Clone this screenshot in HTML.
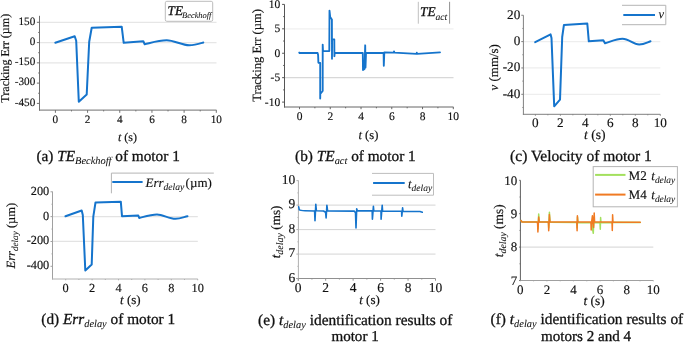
<!DOCTYPE html>
<html><head><meta charset="utf-8"><style>
html,body{margin:0;padding:0;background:#fff;width:685px;height:342px;overflow:hidden}
svg{display:block;will-change:transform}
text{text-rendering:geometricPrecision;font-family:"Liberation Serif",serif;fill:#111;stroke:#111;stroke-width:0.3px}
text.ty,text.tx{stroke-width:0.15px}
text.yl,text.xl{stroke-width:0.18px}
text.lg{stroke-width:0.14px}
tspan.s{stroke-width:0.05px}
</style></head><body>
<svg width="685" height="342" viewBox="0 0 685 342">
<line x1="40" y1="22.3" x2="216.5" y2="22.3" stroke="#e6e6e6" stroke-width="1.2"/>
<line x1="40" y1="42.58" x2="216.5" y2="42.58" stroke="#e6e6e6" stroke-width="1.2"/>
<line x1="40" y1="62.85" x2="216.5" y2="62.85" stroke="#e6e6e6" stroke-width="1.2"/>
<line x1="39.5" y1="15.8" x2="39.5" y2="110.6" stroke="#707070" stroke-width="1"/>
<line x1="39" y1="110.1" x2="216.5" y2="110.1" stroke="#707070" stroke-width="1"/>
<line x1="36.9" y1="22.3" x2="39.5" y2="22.3" stroke="#707070" stroke-width="1"/>
<text class="ty" x="35.3" y="24.5" font-size="11.2" text-anchor="end" >150</text>
<line x1="36.9" y1="42.58" x2="39.5" y2="42.58" stroke="#707070" stroke-width="1"/>
<text class="ty" x="35.3" y="44.78" font-size="11.2" text-anchor="end" >0</text>
<line x1="36.9" y1="62.85" x2="39.5" y2="62.85" stroke="#707070" stroke-width="1"/>
<text class="ty" x="35.3" y="65.05" font-size="11.2" text-anchor="end" >-150</text>
<line x1="36.9" y1="83.12" x2="39.5" y2="83.12" stroke="#707070" stroke-width="1"/>
<text class="ty" x="35.3" y="85.33" font-size="11.2" text-anchor="end" >-300</text>
<line x1="36.9" y1="103.4" x2="39.5" y2="103.4" stroke="#707070" stroke-width="1"/>
<text class="ty" x="35.3" y="105.6" font-size="11.2" text-anchor="end" >-450</text>
<line x1="38.2" y1="32.44" x2="39.5" y2="32.44" stroke="#707070" stroke-width="1"/>
<line x1="38.2" y1="52.71" x2="39.5" y2="52.71" stroke="#707070" stroke-width="1"/>
<line x1="38.2" y1="72.99" x2="39.5" y2="72.99" stroke="#707070" stroke-width="1"/>
<line x1="38.2" y1="93.26" x2="39.5" y2="93.26" stroke="#707070" stroke-width="1"/>
<line x1="55.4" y1="110.1" x2="55.4" y2="112.8" stroke="#707070" stroke-width="1"/>
<text class="tx" x="55.4" y="122.8" font-size="11.2" text-anchor="middle" >0</text>
<line x1="87.58" y1="110.1" x2="87.58" y2="112.8" stroke="#707070" stroke-width="1"/>
<text class="tx" x="87.58" y="122.8" font-size="11.2" text-anchor="middle" >2</text>
<line x1="119.76" y1="110.1" x2="119.76" y2="112.8" stroke="#707070" stroke-width="1"/>
<text class="tx" x="119.76" y="122.8" font-size="11.2" text-anchor="middle" >4</text>
<line x1="151.94" y1="110.1" x2="151.94" y2="112.8" stroke="#707070" stroke-width="1"/>
<text class="tx" x="151.94" y="122.8" font-size="11.2" text-anchor="middle" >6</text>
<line x1="184.12" y1="110.1" x2="184.12" y2="112.8" stroke="#707070" stroke-width="1"/>
<text class="tx" x="184.12" y="122.8" font-size="11.2" text-anchor="middle" >8</text>
<line x1="216.3" y1="110.1" x2="216.3" y2="112.8" stroke="#707070" stroke-width="1"/>
<text class="tx" x="216.3" y="122.8" font-size="11.2" text-anchor="middle" >10</text>
<line x1="71.49" y1="110.1" x2="71.49" y2="111.4" stroke="#707070" stroke-width="1"/>
<line x1="103.67" y1="110.1" x2="103.67" y2="111.4" stroke="#707070" stroke-width="1"/>
<line x1="135.85" y1="110.1" x2="135.85" y2="111.4" stroke="#707070" stroke-width="1"/>
<line x1="168.03" y1="110.1" x2="168.03" y2="111.4" stroke="#707070" stroke-width="1"/>
<line x1="200.21" y1="110.1" x2="200.21" y2="111.4" stroke="#707070" stroke-width="1"/>
<path d="M55.3 42.8 L74.7 36.2 L76.2 40.8 L78.8 101.7 L86.7 94.5 L89.2 41.7 L91.7 27.8 L121.7 26.7 L123.7 42.8 L143.3 41.3 L144.7 44.2 C152 42.5 159 40.3 166.7 40.3 C174 40.3 182 45.3 189.2 45.3 C195 45.3 200 43.5 203.3 42.5" fill="none" stroke="#1574cc" stroke-width="2" stroke-linejoin="round" stroke-linecap="round"/>
<rect x="165.3" y="1.3" width="47.4" height="20" rx="1.5" fill="#fff" stroke="#bcbcbc" stroke-width="1"/>
<text x="167.6" y="15" font-size="13.2" text-anchor="start" font-style="italic">TE<tspan class="s" font-size="8.4" dx="-0.9" dy="3.4">Beckhoff</tspan></text>
<text class="xl" x="118" y="141.2" font-size="12" text-anchor="start" ><tspan font-style="italic">t</tspan> (s)</text>
<text class="yl" transform="translate(8.7,58.25) rotate(-90)" font-size="12.05" text-anchor="middle">Tracking Err (µm)</text>
<text class="cap" x="36.4" y="160.9" font-size="15.3" text-anchor="start" >(a) <tspan font-style="italic">TE</tspan><tspan class="s" font-style="italic" font-size="10.4" dy="3.2">Beckhoff</tspan><tspan dy="-3.2">​</tspan> of motor 1</text>
<line x1="285" y1="28.82" x2="453.5" y2="28.82" stroke="#f0f0f0" stroke-width="1.2"/>
<line x1="285" y1="77.67" x2="453.5" y2="77.67" stroke="#d8d8d8" stroke-width="1.2"/>
<line x1="284.5" y1="4.4" x2="284.5" y2="107.5" stroke="#555" stroke-width="1"/>
<line x1="284" y1="107" x2="453.5" y2="107" stroke="#666" stroke-width="1"/>
<line x1="282.1" y1="4.4" x2="284.5" y2="4.4" stroke="#555" stroke-width="1"/>
<text class="ty" x="280.2" y="7.9" font-size="11.5" text-anchor="end" >10</text>
<line x1="282.1" y1="28.82" x2="284.5" y2="28.82" stroke="#555" stroke-width="1"/>
<text class="ty" x="280.2" y="32.32" font-size="11.5" text-anchor="end" >5</text>
<line x1="282.1" y1="53.25" x2="284.5" y2="53.25" stroke="#555" stroke-width="1"/>
<text class="ty" x="280.2" y="56.75" font-size="11.5" text-anchor="end" >0</text>
<line x1="282.1" y1="77.67" x2="284.5" y2="77.67" stroke="#555" stroke-width="1"/>
<text class="ty" x="280.2" y="81.17" font-size="11.5" text-anchor="end" >-5</text>
<line x1="282.1" y1="102.1" x2="284.5" y2="102.1" stroke="#555" stroke-width="1"/>
<text class="ty" x="280.2" y="105.6" font-size="11.5" text-anchor="end" >-10</text>
<line x1="283.2" y1="16.61" x2="284.5" y2="16.61" stroke="#555" stroke-width="1"/>
<line x1="283.2" y1="41.04" x2="284.5" y2="41.04" stroke="#555" stroke-width="1"/>
<line x1="283.2" y1="65.46" x2="284.5" y2="65.46" stroke="#555" stroke-width="1"/>
<line x1="283.2" y1="89.89" x2="284.5" y2="89.89" stroke="#555" stroke-width="1"/>
<line x1="299.5" y1="107" x2="299.5" y2="109.2" stroke="#666" stroke-width="1"/>
<text class="tx" x="299.5" y="119.8" font-size="11.5" text-anchor="middle" >0</text>
<line x1="330.26" y1="107" x2="330.26" y2="109.2" stroke="#666" stroke-width="1"/>
<text class="tx" x="330.26" y="119.8" font-size="11.5" text-anchor="middle" >2</text>
<line x1="361.02" y1="107" x2="361.02" y2="109.2" stroke="#666" stroke-width="1"/>
<text class="tx" x="361.02" y="119.8" font-size="11.5" text-anchor="middle" >4</text>
<line x1="391.78" y1="107" x2="391.78" y2="109.2" stroke="#666" stroke-width="1"/>
<text class="tx" x="391.78" y="119.8" font-size="11.5" text-anchor="middle" >6</text>
<line x1="422.54" y1="107" x2="422.54" y2="109.2" stroke="#666" stroke-width="1"/>
<text class="tx" x="422.54" y="119.8" font-size="11.5" text-anchor="middle" >8</text>
<line x1="453.3" y1="107" x2="453.3" y2="109.2" stroke="#666" stroke-width="1"/>
<text class="tx" x="453.3" y="119.8" font-size="11.5" text-anchor="middle" >10</text>
<line x1="314.88" y1="107" x2="314.88" y2="108.3" stroke="#666" stroke-width="1"/>
<line x1="345.64" y1="107" x2="345.64" y2="108.3" stroke="#666" stroke-width="1"/>
<line x1="376.4" y1="107" x2="376.4" y2="108.3" stroke="#666" stroke-width="1"/>
<line x1="407.16" y1="107" x2="407.16" y2="108.3" stroke="#666" stroke-width="1"/>
<line x1="437.92" y1="107" x2="437.92" y2="108.3" stroke="#666" stroke-width="1"/>
<path d="M299.2 52.6 L299.6 53 L317.6 53 L318.1 55 L318.4 62.8 L320.2 63 L320.2 98.6 L320.3 93.8 L322.7 91 L322.7 44.6 L323 51.1 L329.3 51.1 L329.5 10.6 L330.2 17 L331.9 19.5 L332 58.8 L332.1 39.2 L334.3 39.4 L334.4 56.2 L334.7 53 L362.8 53 L363 70 L364.5 69 L365.2 45.3 L365.5 67.5 L366 53 L383.6 52.8 L383.8 65.8 L384.3 52.4 L393.8 52.6 L394 51.4 L394.4 52.6 L416.5 53.9 L416.8 52.7 L417.2 53.9 L440 52.4" fill="none" stroke="#1574cc" stroke-width="1.85" stroke-linejoin="round" stroke-linecap="round"/>
<line x1="418.3" y1="1.8" x2="418.3" y2="23.7" stroke="#c0c0c0" stroke-width="1"/>
<line x1="449.6" y1="1.8" x2="449.6" y2="23.7" stroke="#909090" stroke-width="1"/>
<text x="420" y="15.5" font-size="13.3" text-anchor="start" font-style="italic">TE<tspan class="s" font-style="italic" font-size="9.6" dy="4.3">act</tspan><tspan dy="-4.3">​</tspan></text>
<text class="xl" x="358.4" y="138.5" font-size="12.6" text-anchor="start" ><tspan font-style="italic">t</tspan> (s)</text>
<text class="yl" transform="translate(260.8,55.35) rotate(-90)" font-size="12.6" text-anchor="middle">Tracking Err (µm)</text>
<text class="cap" x="295.1" y="160.9" font-size="15.3" text-anchor="start" >(b) <tspan font-style="italic">TE</tspan><tspan class="s" font-style="italic" font-size="10.4" dy="3.2">act</tspan><tspan dy="-3.2">​</tspan> of motor 1</text>
<line x1="523.9" y1="41.6" x2="660.3" y2="41.6" stroke="#eeeeee" stroke-width="1.2"/>
<line x1="523.9" y1="67.95" x2="660.3" y2="67.95" stroke="#eeeeee" stroke-width="1.2"/>
<line x1="523.9" y1="94.3" x2="660.3" y2="94.3" stroke="#eeeeee" stroke-width="1.2"/>
<line x1="523.4" y1="15.25" x2="523.4" y2="114.8" stroke="#808080" stroke-width="1"/>
<line x1="522.9" y1="114.3" x2="660.3" y2="114.3" stroke="#808080" stroke-width="1"/>
<line x1="521.3" y1="15.25" x2="523.4" y2="15.25" stroke="#808080" stroke-width="1"/>
<text class="ty" x="520.3" y="18.75" font-size="13.2" text-anchor="end" >20</text>
<line x1="521.3" y1="41.6" x2="523.4" y2="41.6" stroke="#808080" stroke-width="1"/>
<text class="ty" x="520.3" y="45.1" font-size="13.2" text-anchor="end" >0</text>
<line x1="521.3" y1="67.95" x2="523.4" y2="67.95" stroke="#808080" stroke-width="1"/>
<text class="ty" x="520.3" y="71.45" font-size="13.2" text-anchor="end" >-20</text>
<line x1="521.3" y1="94.3" x2="523.4" y2="94.3" stroke="#808080" stroke-width="1"/>
<text class="ty" x="520.3" y="97.8" font-size="13.2" text-anchor="end" >-40</text>
<line x1="522.4" y1="28.42" x2="523.4" y2="28.42" stroke="#808080" stroke-width="1"/>
<line x1="522.4" y1="54.77" x2="523.4" y2="54.77" stroke="#808080" stroke-width="1"/>
<line x1="522.4" y1="81.12" x2="523.4" y2="81.12" stroke="#808080" stroke-width="1"/>
<line x1="522.4" y1="107.47" x2="523.4" y2="107.47" stroke="#808080" stroke-width="1"/>
<line x1="535.4" y1="114.3" x2="535.4" y2="115.7" stroke="#808080" stroke-width="1"/>
<text class="tx" x="535.4" y="127.2" font-size="13.2" text-anchor="middle" >0</text>
<line x1="560.38" y1="114.3" x2="560.38" y2="115.7" stroke="#808080" stroke-width="1"/>
<text class="tx" x="560.38" y="127.2" font-size="13.2" text-anchor="middle" >2</text>
<line x1="585.36" y1="114.3" x2="585.36" y2="115.7" stroke="#808080" stroke-width="1"/>
<text class="tx" x="585.36" y="127.2" font-size="13.2" text-anchor="middle" >4</text>
<line x1="610.34" y1="114.3" x2="610.34" y2="115.7" stroke="#808080" stroke-width="1"/>
<text class="tx" x="610.34" y="127.2" font-size="13.2" text-anchor="middle" >6</text>
<line x1="635.32" y1="114.3" x2="635.32" y2="115.7" stroke="#808080" stroke-width="1"/>
<text class="tx" x="635.32" y="127.2" font-size="13.2" text-anchor="middle" >8</text>
<line x1="660.3" y1="114.3" x2="660.3" y2="115.7" stroke="#808080" stroke-width="1"/>
<text class="tx" x="660.3" y="127.2" font-size="13.2" text-anchor="middle" >10</text>
<line x1="547.89" y1="114.3" x2="547.89" y2="115.3" stroke="#808080" stroke-width="1"/>
<line x1="572.87" y1="114.3" x2="572.87" y2="115.3" stroke="#808080" stroke-width="1"/>
<line x1="597.85" y1="114.3" x2="597.85" y2="115.3" stroke="#808080" stroke-width="1"/>
<line x1="622.83" y1="114.3" x2="622.83" y2="115.3" stroke="#808080" stroke-width="1"/>
<line x1="647.81" y1="114.3" x2="647.81" y2="115.3" stroke="#808080" stroke-width="1"/>
<path d="M535.2 42.2 L550.6 34.4 L551.5 38 L554.2 106.3 L560 99.7 L562.2 37 L563.9 25.1 L587.3 23.5 L588.8 41.3 L603.3 40.3 L605 43.3 C611 41.5 616 38.7 622.5 38.7 C629 38.7 633 44.5 639.2 44.5 C644 44.5 647 42.5 650.5 41.3" fill="none" stroke="#1574cc" stroke-width="2" stroke-linejoin="round" stroke-linecap="round"/>
<line x1="622" y1="5.3" x2="665.8" y2="5.3" stroke="#b4b4b4" stroke-width="1"/>
<line x1="622" y1="24.7" x2="665.8" y2="24.7" stroke="#b4b4b4" stroke-width="1"/>
<line x1="665.8" y1="5.3" x2="665.8" y2="24.7" stroke="#b4b4b4" stroke-width="1"/>
<line x1="623.3" y1="15" x2="655" y2="15" stroke="#1574cc" stroke-width="2"/>
<text x="658.4" y="18.4" font-size="12.6" text-anchor="start" font-style="italic" style="stroke-width:0.05px">v</text>
<text class="xl" x="583.9" y="138.9" font-size="13.7" text-anchor="start" ><tspan font-style="italic">t</tspan> (s)</text>
<text class="yl" transform="translate(497.6,67.3) rotate(-90)" font-size="12.9" text-anchor="middle"><tspan font-style="italic">v</tspan> (mm/s)</text>
<text class="cap" x="510.1" y="160.9" font-size="15.5" text-anchor="start" >(c) Velocity of motor 1</text>
<line x1="53" y1="216.63" x2="197.8" y2="216.63" stroke="#e3e3e3" stroke-width="1.2"/>
<line x1="53" y1="241.47" x2="197.8" y2="241.47" stroke="#e3e3e3" stroke-width="1.2"/>
<line x1="52.5" y1="191.5" x2="52.5" y2="279.5" stroke="#a0a0a0" stroke-width="1"/>
<line x1="52" y1="279" x2="197.8" y2="279" stroke="#b0b0b0" stroke-width="1"/>
<line x1="50.5" y1="191.8" x2="52.5" y2="191.8" stroke="#a0a0a0" stroke-width="1"/>
<text class="ty" x="49.2" y="194.7" font-size="12.3" text-anchor="end" >200</text>
<line x1="50.5" y1="216.63" x2="52.5" y2="216.63" stroke="#a0a0a0" stroke-width="1"/>
<text class="ty" x="49.2" y="219.53" font-size="12.3" text-anchor="end" >0</text>
<line x1="50.5" y1="241.47" x2="52.5" y2="241.47" stroke="#a0a0a0" stroke-width="1"/>
<text class="ty" x="49.2" y="244.37" font-size="12.3" text-anchor="end" >-200</text>
<line x1="50.5" y1="266.3" x2="52.5" y2="266.3" stroke="#a0a0a0" stroke-width="1"/>
<text class="ty" x="49.2" y="269.2" font-size="12.3" text-anchor="end" >-400</text>
<line x1="51.5" y1="204.22" x2="52.5" y2="204.22" stroke="#a0a0a0" stroke-width="1"/>
<line x1="51.5" y1="229.05" x2="52.5" y2="229.05" stroke="#a0a0a0" stroke-width="1"/>
<line x1="51.5" y1="253.88" x2="52.5" y2="253.88" stroke="#a0a0a0" stroke-width="1"/>
<line x1="65.7" y1="279" x2="65.7" y2="280.3" stroke="#b0b0b0" stroke-width="1"/>
<text class="tx" x="65.7" y="291.5" font-size="12.3" text-anchor="middle" >0</text>
<line x1="92.1" y1="279" x2="92.1" y2="280.3" stroke="#b0b0b0" stroke-width="1"/>
<text class="tx" x="92.1" y="291.5" font-size="12.3" text-anchor="middle" >2</text>
<line x1="118.5" y1="279" x2="118.5" y2="280.3" stroke="#b0b0b0" stroke-width="1"/>
<text class="tx" x="118.5" y="291.5" font-size="12.3" text-anchor="middle" >4</text>
<line x1="144.9" y1="279" x2="144.9" y2="280.3" stroke="#b0b0b0" stroke-width="1"/>
<text class="tx" x="144.9" y="291.5" font-size="12.3" text-anchor="middle" >6</text>
<line x1="171.3" y1="279" x2="171.3" y2="280.3" stroke="#b0b0b0" stroke-width="1"/>
<text class="tx" x="171.3" y="291.5" font-size="12.3" text-anchor="middle" >8</text>
<line x1="197.7" y1="279" x2="197.7" y2="280.3" stroke="#b0b0b0" stroke-width="1"/>
<text class="tx" x="197.7" y="291.5" font-size="12.3" text-anchor="middle" >10</text>
<line x1="78.9" y1="279" x2="78.9" y2="280" stroke="#b0b0b0" stroke-width="1"/>
<line x1="105.3" y1="279" x2="105.3" y2="280" stroke="#b0b0b0" stroke-width="1"/>
<line x1="131.7" y1="279" x2="131.7" y2="280" stroke="#b0b0b0" stroke-width="1"/>
<line x1="158.1" y1="279" x2="158.1" y2="280" stroke="#b0b0b0" stroke-width="1"/>
<line x1="184.5" y1="279" x2="184.5" y2="280" stroke="#b0b0b0" stroke-width="1"/>
<path d="M65.5 216.3 L81.7 210.5 L82.8 215 L85.3 270.5 L91.7 264.5 L93.3 216.7 L95.5 202.5 L120.8 201.7 L122 216.2 L138.3 215.5 L139.2 218 C145 216.5 151 214.5 157 214.5 C163 214.5 169 218.8 175.5 218.8 C180 218.8 184 217 187.5 216.2" fill="none" stroke="#1574cc" stroke-width="2" stroke-linejoin="round" stroke-linecap="round"/>
<line x1="111.4" y1="173.1" x2="213.8" y2="173.1" stroke="#b4b4b4" stroke-width="1"/>
<line x1="111.4" y1="173.1" x2="111.4" y2="193.3" stroke="#b4b4b4" stroke-width="1"/>
<line x1="112.3" y1="182" x2="142.6" y2="182" stroke="#1574cc" stroke-width="2"/>
<text class="lg" x="145.5" y="186.9" font-size="13" text-anchor="start" ><tspan font-style="italic">Err</tspan><tspan class="s" font-style="italic" font-size="9.6" dy="3">delay</tspan><tspan dy="-3">​</tspan><tspan dx="-2"> (µm)</tspan></text>
<text class="xl" x="120" y="303.6" font-size="13" text-anchor="start" ><tspan font-style="italic">t</tspan> (s)</text>
<text class="yl" transform="translate(15.1,235.65) rotate(-90)" font-size="12.5" text-anchor="middle"><tspan font-style="italic">Err</tspan><tspan class="s" font-style="italic" font-size="9.2" dy="2.8">delay</tspan><tspan dy="-2.8">​</tspan> (µm)</text>
<text class="cap" x="41.3" y="324" font-size="15.3" text-anchor="start" >(d) <tspan font-style="italic">Err</tspan><tspan class="s" font-style="italic" font-size="10.4" dy="3.2">delay</tspan><tspan dy="-3.2">​</tspan> of motor 1</text>
<line x1="298.9" y1="205.12" x2="435.5" y2="205.12" stroke="#d4d4d4" stroke-width="1"/>
<line x1="298.9" y1="229.6" x2="435.5" y2="229.6" stroke="#d4d4d4" stroke-width="1"/>
<line x1="298.9" y1="254.08" x2="435.5" y2="254.08" stroke="#d4d4d4" stroke-width="1"/>
<line x1="298.4" y1="180.4" x2="298.4" y2="280.8" stroke="#b0b0b0" stroke-width="1"/>
<line x1="296.1" y1="278.5" x2="435.5" y2="278.5" stroke="#909090" stroke-width="1"/>
<line x1="296.4" y1="180.65" x2="298.4" y2="180.65" stroke="#b0b0b0" stroke-width="1"/>
<text class="ty" x="295.3" y="183.85" font-size="13.5" text-anchor="end" >10</text>
<line x1="296.4" y1="205.12" x2="298.4" y2="205.12" stroke="#b0b0b0" stroke-width="1"/>
<text class="ty" x="295.3" y="208.32" font-size="13.5" text-anchor="end" >9</text>
<line x1="296.4" y1="229.6" x2="298.4" y2="229.6" stroke="#b0b0b0" stroke-width="1"/>
<text class="ty" x="295.3" y="232.8" font-size="13.5" text-anchor="end" >8</text>
<line x1="296.4" y1="254.08" x2="298.4" y2="254.08" stroke="#b0b0b0" stroke-width="1"/>
<text class="ty" x="295.3" y="257.28" font-size="13.5" text-anchor="end" >7</text>
<line x1="296.4" y1="278.55" x2="298.4" y2="278.55" stroke="#b0b0b0" stroke-width="1"/>
<text class="ty" x="295.3" y="281.75" font-size="13.5" text-anchor="end" >6</text>
<line x1="297.4" y1="192.89" x2="298.4" y2="192.89" stroke="#b0b0b0" stroke-width="1"/>
<line x1="297.4" y1="217.36" x2="298.4" y2="217.36" stroke="#b0b0b0" stroke-width="1"/>
<line x1="297.4" y1="241.84" x2="298.4" y2="241.84" stroke="#b0b0b0" stroke-width="1"/>
<line x1="297.4" y1="266.31" x2="298.4" y2="266.31" stroke="#b0b0b0" stroke-width="1"/>
<line x1="298.2" y1="278.5" x2="298.2" y2="280.7" stroke="#909090" stroke-width="1"/>
<text class="tx" x="298.2" y="292" font-size="13.5" text-anchor="middle" >0</text>
<line x1="325.66" y1="278.5" x2="325.66" y2="280.7" stroke="#909090" stroke-width="1"/>
<text class="tx" x="325.66" y="292" font-size="13.5" text-anchor="middle" >2</text>
<line x1="353.12" y1="278.5" x2="353.12" y2="280.7" stroke="#909090" stroke-width="1"/>
<text class="tx" x="353.12" y="292" font-size="13.5" text-anchor="middle" >4</text>
<line x1="380.58" y1="278.5" x2="380.58" y2="280.7" stroke="#909090" stroke-width="1"/>
<text class="tx" x="380.58" y="292" font-size="13.5" text-anchor="middle" >6</text>
<line x1="408.04" y1="278.5" x2="408.04" y2="280.7" stroke="#909090" stroke-width="1"/>
<text class="tx" x="408.04" y="292" font-size="13.5" text-anchor="middle" >8</text>
<line x1="435.5" y1="278.5" x2="435.5" y2="280.7" stroke="#909090" stroke-width="1"/>
<text class="tx" x="435.5" y="292" font-size="13.5" text-anchor="middle" >10</text>
<line x1="311.93" y1="278.5" x2="311.93" y2="279.5" stroke="#909090" stroke-width="1"/>
<line x1="339.39" y1="278.5" x2="339.39" y2="279.5" stroke="#909090" stroke-width="1"/>
<line x1="366.85" y1="278.5" x2="366.85" y2="279.5" stroke="#909090" stroke-width="1"/>
<line x1="394.31" y1="278.5" x2="394.31" y2="279.5" stroke="#909090" stroke-width="1"/>
<line x1="421.77" y1="278.5" x2="421.77" y2="279.5" stroke="#909090" stroke-width="1"/>
<path d="M298.7 206.8 L299.3 209.8 C300 210.5 301.5 210.7 305 210.8 L314.6 211.0 L315 220.7 L315.8 204.2 L316.4 210.7 L323.5 211.0 L325.6 212.3 L326.1 217.9 L326.9 205.4 L327.6 210.9 L354.2 211.1 L355.5 212.7 L356 228 L356.7 208.8 L357.4 210.9 L372.2 210.9 L372.4 219.3 L373.4 206.4 L373.8 210.9 L381 211.0 L381.1 219.3 L382.2 205.3 L382.6 211.1 L401.6 211.3 L401.8 216.1 L402.6 207.8 L403 211.3 L420 211.5 L422.3 212.2" fill="none" stroke="#1574cc" stroke-width="1.6" stroke-linejoin="round" stroke-linecap="round"/>
<line x1="372" y1="173.4" x2="433.5" y2="173.4" stroke="#bdbdbd" stroke-width="1"/>
<line x1="372" y1="195.2" x2="433.5" y2="195.2" stroke="#bdbdbd" stroke-width="1"/>
<line x1="433.5" y1="173.4" x2="433.5" y2="195.2" stroke="#bdbdbd" stroke-width="1"/>
<line x1="373.1" y1="183" x2="404.7" y2="183" stroke="#1574cc" stroke-width="2"/>
<text class="lg" x="408.1" y="187.6" font-size="12.6" text-anchor="start" font-style="italic">t<tspan class="s" font-style="italic" font-size="9.5" dy="3.5">delay</tspan><tspan dy="-3.5">​</tspan></text>
<text class="xl" x="359.2" y="303.6" font-size="13" text-anchor="start" ><tspan font-style="italic">t</tspan> (s)</text>
<text class="yl" transform="translate(279.8,231.95) rotate(-90)" font-size="13.2" text-anchor="middle"><tspan font-style="italic">t</tspan><tspan class="s" font-style="italic" font-size="10" dy="3">delay</tspan><tspan dy="-3">​</tspan> (ms)</text>
<text class="cap" x="258.1" y="324.5" font-size="15.4" text-anchor="start" >(e) <tspan font-style="italic">t</tspan><tspan class="s" font-style="italic" font-size="10.4" dy="3.2">delay</tspan><tspan dy="-3.2">​</tspan> identification results of</text>
<text class="cap" x="331.4" y="340.8" font-size="15.1" text-anchor="start" >motor 1</text>
<line x1="520.9" y1="247.1" x2="653.3" y2="247.1" stroke="#dcdcdc" stroke-width="1.2"/>
<line x1="520.4" y1="180.3" x2="520.4" y2="281" stroke="#606060" stroke-width="1"/>
<line x1="519.9" y1="280.5" x2="653.3" y2="280.5" stroke="#a0a0a0" stroke-width="1"/>
<line x1="519.2" y1="180.3" x2="520.4" y2="180.3" stroke="#606060" stroke-width="1"/>
<text class="ty" x="517.3" y="184.6" font-size="13" text-anchor="end" >10</text>
<line x1="519.2" y1="213.7" x2="520.4" y2="213.7" stroke="#606060" stroke-width="1"/>
<text class="ty" x="517.3" y="218" font-size="13" text-anchor="end" >9</text>
<line x1="519.2" y1="247.1" x2="520.4" y2="247.1" stroke="#606060" stroke-width="1"/>
<text class="ty" x="517.3" y="251.4" font-size="13" text-anchor="end" >8</text>
<line x1="519.2" y1="280.5" x2="520.4" y2="280.5" stroke="#606060" stroke-width="1"/>
<text class="ty" x="517.3" y="284.8" font-size="13" text-anchor="end" >7</text>
<line x1="519.6" y1="197" x2="520.4" y2="197" stroke="#606060" stroke-width="1"/>
<line x1="519.6" y1="230.4" x2="520.4" y2="230.4" stroke="#606060" stroke-width="1"/>
<line x1="519.6" y1="263.8" x2="520.4" y2="263.8" stroke="#606060" stroke-width="1"/>
<line x1="520.3" y1="280.5" x2="520.3" y2="281.3" stroke="#a0a0a0" stroke-width="1"/>
<text class="tx" x="520.3" y="293.5" font-size="13" text-anchor="middle" >0</text>
<line x1="546.9" y1="280.5" x2="546.9" y2="281.3" stroke="#a0a0a0" stroke-width="1"/>
<text class="tx" x="546.9" y="293.5" font-size="13" text-anchor="middle" >2</text>
<line x1="573.5" y1="280.5" x2="573.5" y2="281.3" stroke="#a0a0a0" stroke-width="1"/>
<text class="tx" x="573.5" y="293.5" font-size="13" text-anchor="middle" >4</text>
<line x1="600.1" y1="280.5" x2="600.1" y2="281.3" stroke="#a0a0a0" stroke-width="1"/>
<text class="tx" x="600.1" y="293.5" font-size="13" text-anchor="middle" >6</text>
<line x1="626.7" y1="280.5" x2="626.7" y2="281.3" stroke="#a0a0a0" stroke-width="1"/>
<text class="tx" x="626.7" y="293.5" font-size="13" text-anchor="middle" >8</text>
<line x1="653.3" y1="280.5" x2="653.3" y2="281.3" stroke="#a0a0a0" stroke-width="1"/>
<text class="tx" x="653.3" y="293.5" font-size="13" text-anchor="middle" >10</text>
<line x1="533.6" y1="280.5" x2="533.6" y2="281.3" stroke="#a0a0a0" stroke-width="1"/>
<line x1="560.2" y1="280.5" x2="560.2" y2="281.3" stroke="#a0a0a0" stroke-width="1"/>
<line x1="586.8" y1="280.5" x2="586.8" y2="281.3" stroke="#a0a0a0" stroke-width="1"/>
<line x1="613.4" y1="280.5" x2="613.4" y2="281.3" stroke="#a0a0a0" stroke-width="1"/>
<line x1="640" y1="280.5" x2="640" y2="281.3" stroke="#a0a0a0" stroke-width="1"/>
<path d="M521 220.5 L522 222 L537.6 222 L538 229 L538.7 214 L539.2 222 L548.4 222 L548.7 228 L549.4 212.3 L550 222.3 L577 222.6 L577.2 228 L577.5 217 L578 222.8 L591.5 222.8 L593.3 233.3 L593.9 218 L594.5 222.8 L600 222.8 L600.3 229.2 L600.6 217.5 L601 222.8 L612 222.8 L612.4 222.3 L640.3 222.6" fill="none" stroke="#a3e05e" stroke-width="1.5" stroke-linejoin="round" stroke-linecap="round"/>
<path d="M521 220.5 L522 222 L537 222 L537.6 223.5 L537.9 231.9 L538.7 217 L539.2 222 L548 222 L548.5 223.5 L548.7 230.7 L549.4 214.6 L550 222 L576.8 222 L577.1 230.8 L577.4 215.8 L577.8 222 L590.9 222 L591.2 230 L591.6 222 L592.4 215.8 L592.8 222 L593.6 227.5 L594.2 213 L594.6 222 L612 222 L612.3 230.5 L612.6 214.7 L613 222 L640.3 222.2" fill="none" stroke="#f07a23" stroke-width="1.5" stroke-linejoin="round" stroke-linecap="round"/>
<rect x="593.2" y="166.6" width="84.2" height="40.2" fill="#fff" stroke="#b4b4b4" stroke-width="1"/>
<line x1="595.1" y1="174.9" x2="625.5" y2="174.9" stroke="#a3e05e" stroke-width="2"/>
<line x1="595.1" y1="194.6" x2="625.5" y2="194.6" stroke="#f07a23" stroke-width="2"/>
<text class="lg" x="628.6" y="179.8" font-size="13.1" text-anchor="start" >M2 <tspan dx="1.2" font-style="italic">t</tspan><tspan class="s" font-style="italic" font-size="9.4" dy="3.6">delay</tspan><tspan dy="-3.6">​</tspan></text>
<text class="lg" x="628.6" y="198.8" font-size="13.1" text-anchor="start" >M4 <tspan dx="1.2" font-style="italic">t</tspan><tspan class="s" font-style="italic" font-size="9.4" dy="3.6">delay</tspan><tspan dy="-3.6">​</tspan></text>
<text class="xl" x="583.4" y="304.9" font-size="13.4" text-anchor="start" ><tspan font-style="italic">t</tspan> (s)</text>
<text class="yl" transform="translate(503.3,230.8) rotate(-90)" font-size="13.4" text-anchor="middle"><tspan font-style="italic">t</tspan><tspan class="s" font-style="italic" font-size="9.8" dy="3">delay</tspan><tspan dy="-3">​</tspan> (ms)</text>
<text class="cap" x="490.6" y="323.6" font-size="15.4" text-anchor="start" >(f) <tspan font-style="italic">t</tspan><tspan class="s" font-style="italic" font-size="10.4" dy="3.2">delay</tspan><tspan dy="-3.2">​</tspan> identification results of</text>
<text class="cap" x="541" y="340.8" font-size="15.1" text-anchor="start" >motors 2 and 4</text>
</svg></body></html>
